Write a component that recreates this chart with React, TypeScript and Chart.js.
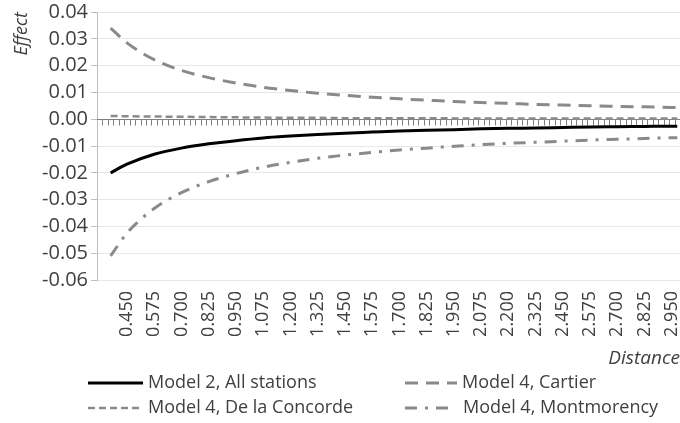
import React, { useEffect, useRef } from 'react';
import { Chart, registerables } from 'chart.js';

Chart.register(...registerables);

// ---- data ----
const distances = [0.375, 0.45, 0.575, 0.7, 0.825, 0.95, 1.075, 1.2, 1.325, 1.45, 1.575, 1.7, 1.825, 1.95, 2.075, 2.2, 2.325, 2.45, 2.575, 2.7, 2.825, 2.95, 2.975];

const model2AllStations = [-0.0200, -0.0168, -0.0131, -0.0108, -0.0092, -0.0080, -0.0070, -0.0063, -0.0057, -0.0052, -0.0048, -0.0044, -0.0041, -0.0039, -0.0036, -0.0034, -0.0033, -0.0031, -0.0029, -0.0028, -0.0027, -0.0026, -0.0026];
const model4Cartier = [0.0340, 0.0285, 0.0222, 0.0182, 0.0155, 0.0135, 0.0119, 0.0107, 0.0097, 0.0089, 0.0082, 0.0076, 0.0071, 0.0066, 0.0062, 0.0059, 0.0055, 0.0053, 0.0050, 0.0048, 0.0046, 0.0044, 0.0043];
const model4Concorde = [0.0012, 0.0011, 0.0010, 0.0009, 0.0008, 0.0007, 0.0006, 0.0005, 0.0005, 0.0004, 0.0004, 0.0004, 0.0004, 0.0003, 0.0003, 0.0003, 0.0003, 0.0003, 0.0003, 0.0003, 0.0003, 0.0003, 0.0003];
const model4Montmorency = [-0.0510, -0.0425, -0.0333, -0.0274, -0.0233, -0.0203, -0.0179, -0.0161, -0.0146, -0.0134, -0.0124, -0.0115, -0.0108, -0.0101, -0.0095, -0.0090, -0.0086, -0.0082, -0.0078, -0.0075, -0.0072, -0.0069, -0.0069];

const seriesNames = ['Model 2, All stations', 'Model 4, Cartier', 'Model 4, De la Concorde', 'Model 4, Montmorency'];

const xTickLabels = ['0.450', '0.575', '0.700', '0.825', '0.950', '1.075', '1.200', '1.325', '1.450', '1.575', '1.700', '1.825', '1.950', '2.075', '2.200', '2.325', '2.450', '2.575', '2.700', '2.825', '2.950'];
const yTickLabels = ['-0.06', '-0.05', '-0.04', '-0.03', '-0.02', '-0.01', '0.00', '0.01', '0.02', '0.03', '0.04'];
const categoryStep = 0.025;
const xMin = 0.3125;
const xMax = 2.9875;

const FONT = "'Open Sans', sans-serif";
const TEXT = '#404040';

const toPoints = (vals: number[]) => vals.map((v, i) => ({ x: distances[i], y: v }));

const zeroAxisPlugin = {
  id: 'zeroAxis',
  beforeDatasetsDraw(chart: any) {
    const { ctx, chartArea, scales } = chart;
    const x = scales.x;
    const y = scales.y;
    const y0 = Math.round(y.getPixelForValue(0)) + 0.5;
    ctx.save();
    ctx.strokeStyle = '#808080';
    ctx.lineWidth = 1;
    ctx.beginPath();
    ctx.moveTo(chartArea.left, y0);
    ctx.lineTo(chartArea.right, y0);
    for (let k = 1; xMin + k * categoryStep < xMax; k++) {
      const px = Math.round(x.getPixelForValue(xMin + k * categoryStep)) + 0.5;
      ctx.moveTo(px, y0);
      ctx.lineTo(px, y0 + 6);
    }
    ctx.stroke();
    ctx.restore();
  },
};

const legendPlugin = {
  id: 'gridLegend',
  afterDraw(chart: any) {
    const { ctx } = chart;
    const spots = [
      { x: 88, y: 383, len: 55, tx: 148 },
      { x: 405, y: 383, len: 52, tx: 462 },
      { x: 88, y: 408, len: 55, tx: 148 },
      { x: 405, y: 408, len: 43, tx: 463 },
    ];
    ctx.save();
    chart.data.datasets.forEach((ds: any, i: number) => {
      const s = spots[i];
      ctx.beginPath();
      ctx.strokeStyle = ds.borderColor;
      ctx.lineWidth = ds.borderWidth;
      ctx.setLineDash(ds.borderDash || []);
      ctx.lineCap = 'butt';
      ctx.moveTo(s.x, s.y);
      ctx.lineTo(s.x + s.len, s.y);
      ctx.stroke();
      ctx.setLineDash([]);
      ctx.fillStyle = TEXT;
      ctx.font = `18px ${FONT}`;
      ctx.textBaseline = 'middle';
      ctx.textAlign = 'left';
      ctx.fillText(ds.label, s.tx, s.y);
    });
    ctx.restore();
  },
};

export default function App() {
  const canvasRef = useRef<HTMLCanvasElement | null>(null);

  useEffect(() => {
    document.body.style.margin = '0';
    const canvas = canvasRef.current;
    if (!canvas) return;
    const yVals = yTickLabels.map((l) => parseFloat(l));
    const chart = new Chart(canvas, {
      type: 'line',
      data: {
        datasets: [
          {
            label: seriesNames[0],
            data: toPoints(model2AllStations),
            borderColor: '#000000',
            borderWidth: 3,
            pointRadius: 0,
            cubicInterpolationMode: 'monotone',
          },
          {
            label: seriesNames[1],
            data: toPoints(model4Cartier),
            borderColor: '#8a8a8a',
            borderWidth: 3,
            borderDash: [13, 8],
            pointRadius: 0,
            cubicInterpolationMode: 'monotone',
          },
          {
            label: seriesNames[2],
            data: toPoints(model4Concorde),
            borderColor: '#8a8a8a',
            borderWidth: 2.5,
            borderDash: [7, 4],
            pointRadius: 0,
            cubicInterpolationMode: 'monotone',
          },
          {
            label: seriesNames[3],
            data: toPoints(model4Montmorency),
            borderColor: '#8a8a8a',
            borderWidth: 3,
            borderDash: [12, 8, 3, 8],
            pointRadius: 0,
            cubicInterpolationMode: 'monotone',
          },
        ],
      },
      options: {
        animation: false,
        responsive: false,
        devicePixelRatio: 1,
        layout: { padding: { top: 12, right: 0, bottom: 53, left: 0 } },
        plugins: {
          legend: { display: false },
          tooltip: { enabled: false },
        },
        scales: {
          x: {
            type: 'linear',
            min: xMin,
            max: xMax,
            afterBuildTicks: (s: any) => {
              s.ticks = xTickLabels.map((l) => ({ value: parseFloat(l) }));
            },
            afterFit: (s: any) => {
              s.height = 90;
              s.paddingLeft = 0;
              s.paddingRight = 0;
            },
            ticks: {
              autoSkip: false,
              minRotation: 90,
              maxRotation: 90,
              padding: 11,
              color: TEXT,
              font: { family: FONT, size: 18 },
              callback: (_v: any, i: number) => xTickLabels[i],
            },
            grid: { display: false, drawTicks: false },
            border: { display: false },
            title: {
              display: true,
              text: 'Distance',
              align: 'end',
              color: TEXT,
              font: { family: FONT, size: 19, style: 'italic' },
              padding: { top: 0, bottom: 0 },
            },
          },
          y: {
            type: 'linear',
            min: yVals[0],
            max: yVals[yVals.length - 1],
            afterBuildTicks: (s: any) => {
              s.ticks = yVals.map((v) => ({ value: v }));
            },
            afterFit: (s: any) => {
              s.width = 97;
              s.paddingTop = 0;
              s.paddingBottom = 0;
            },
            ticks: {
              autoSkip: false,
              padding: 3,
              color: TEXT,
              font: { family: FONT, size: 20 },
              callback: (_v: any, i: number) => yTickLabels[i],
            },
            grid: { color: '#e8e8e8', tickColor: '#bfbfbf', tickLength: 6, drawTicks: true },
            border: { color: '#bfbfbf' },
            title: {
              display: true,
              text: 'Effect',
              align: 'end',
              color: TEXT,
              font: { family: FONT, size: 18, style: 'italic' },
              padding: { top: 11, bottom: 0 },
            },
          },
        },
      },
      plugins: [zeroAxisPlugin, legendPlugin],
    } as any);
    return () => chart.destroy();
  }, []);

  return (
    <div style={{ position: 'absolute', left: 0, top: 0, width: 680, height: 423 }}>
      <canvas ref={canvasRef} width={680} height={423} />
    </div>
  );
}
